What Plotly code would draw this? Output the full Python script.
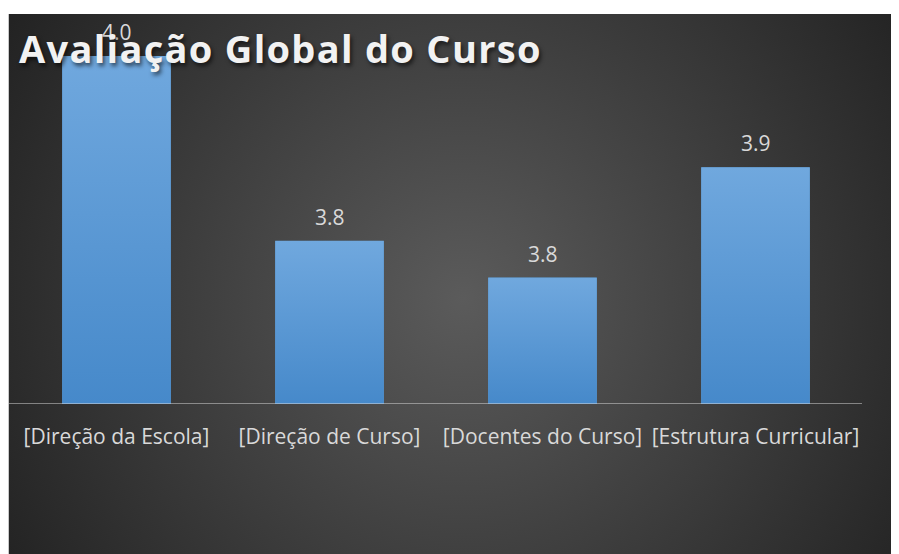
import base64
import plotly.graph_objects as go

categories = ["[Direção da Escola]", "[Direção de Curso]", "[Docentes do Curso]", "[Estrutura Curricular]"]
values = [4.035, 3.804, 3.758, 3.896]
value_labels = [f"{v:.1f}" for v in values]
title_text = "Avaliação Global do Curso"

W, H = 899, 554
ML, MR, MT, MB = 1.5, 45, 12, 158
YMIN, YMAX = 3.6, 4.08
BARGAP = 0.49

plot_w = W - ML - MR
plot_h = H - MT - MB

BG_TOP = 6
BG_W = 930

bg_svg = (
    f'<svg xmlns="http://www.w3.org/2000/svg" width="{BG_W}" height="548" viewBox="0 0 {BG_W} 548" preserveAspectRatio="none">'
    '<defs><radialGradient id="g" gradientUnits="userSpaceOnUse" cx="455" cy="285" r="540">'
    '<stop offset="0" stop-color="#5b5b5b"/><stop offset="1" stop-color="#222222"/>'
    f'</radialGradient></defs><rect width="{BG_W}" height="548" fill="url(#g)"/></svg>'
)
bar_svg = (
    '<svg xmlns="http://www.w3.org/2000/svg" width="10" height="100" viewBox="0 0 10 100" preserveAspectRatio="none">'
    '<defs><linearGradient id="b" x1="0" y1="0" x2="0" y2="1">'
    '<stop offset="0" stop-color="#70a8de"/><stop offset="1" stop-color="#4689ca"/>'
    '</linearGradient></defs><rect width="10" height="100" fill="url(#b)"/></svg>'
)


def uri(s):
    return "data:image/svg+xml;base64," + base64.b64encode(s.encode()).decode()


fig = go.Figure(
    go.Bar(
        x=categories,
        y=values,
        marker=dict(color="#5b9bd5", line=dict(width=0)),
        hoverinfo="skip",
    )
)

images = [
    dict(
        source=uri(bg_svg), xref="paper", yref="paper",
        x=(0 - ML) / plot_w, y=(H - MB - BG_TOP) / plot_h,
        sizex=BG_W / plot_w, sizey=(H - BG_TOP) / plot_h,
        xanchor="left", yanchor="top", sizing="stretch", layer="below",
    )
]
for i, v in enumerate(values):
    images.append(dict(
        source=uri(bar_svg), xref="x", yref="y",
        x=i, y=v, sizex=1 - BARGAP, sizey=v - YMIN,
        xanchor="center", yanchor="top", sizing="stretch", layer="above",
    ))

annotations = [
    dict(x=c, y=v, text=t, showarrow=False, xref="x", yref="y",
         yanchor="bottom", yshift=8,
         font=dict(family="Open Sans", size=21, color="#d9d9d9"))
    for c, v, t in zip(categories, values, value_labels)
]
annotations.append(dict(
    xref="paper", yref="paper",
    x=(9 - ML) / plot_w, y=(H - MB - 12) / plot_h,
    text='<span style="letter-spacing:1.3px">' + title_text + '</span>',
    showarrow=False, xanchor="left", yanchor="top",
    font=dict(family="Open Sans", size=38, color="#f2f2f2",
              weight=700, shadow="2px 3px 4px rgba(0,0,0,0.6)"),
))

fig.update_layout(
    width=W, height=H,
    margin=dict(l=ML, r=MR, t=MT, b=MB),
    paper_bgcolor="white",
    plot_bgcolor="rgba(0,0,0,0)",
    bargap=BARGAP,
    showlegend=False,
    images=images,
    annotations=annotations,
    shapes=[dict(type="line", xref="paper", yref="y", x0=(0 - ML) / plot_w, x1=1,
                 y0=YMIN, y1=YMIN, line=dict(color="rgba(217,217,217,0.5)", width=2),
                 layer="above")],
    xaxis=dict(
        showline=False, showgrid=False, zeroline=False, ticks="",
        tickfont=dict(family="Open Sans", size=21, color="#d9d9d9"),
        ticklabelstandoff=18,
    ),
    yaxis=dict(range=[YMIN, YMAX], visible=False, showgrid=False, zeroline=False),
)

fig.write_html("out.html")
